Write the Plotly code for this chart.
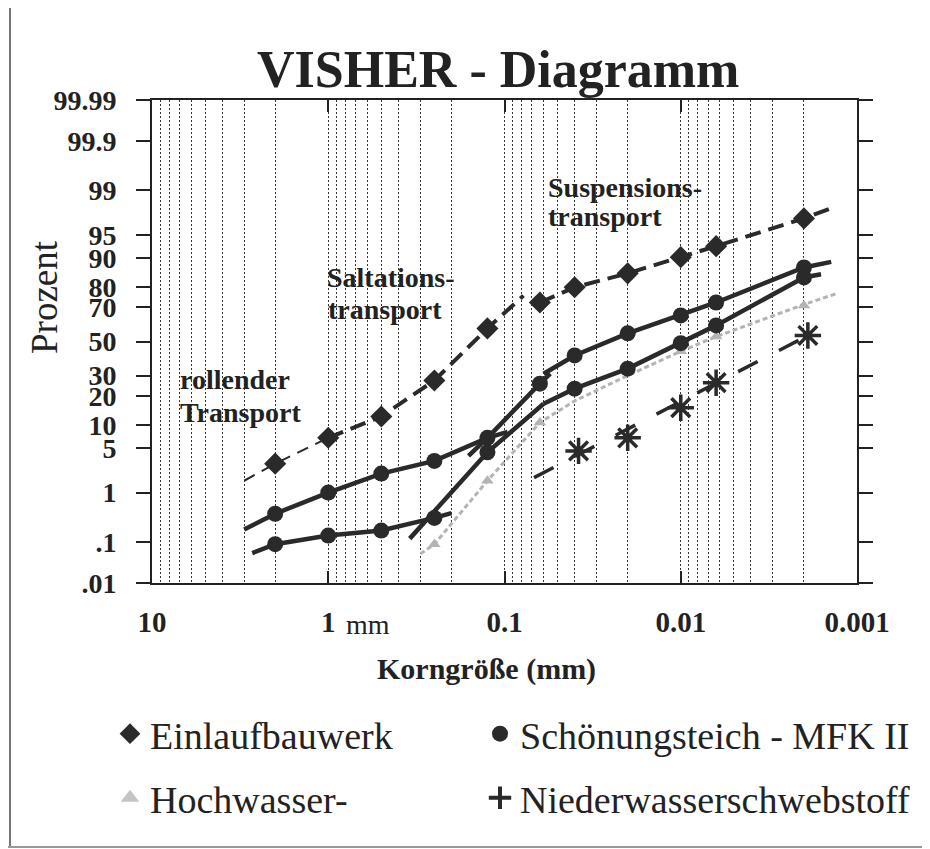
from statistics import NormalDist
import plotly.graph_objects as go

# probability (normal quantile) scale for the y axis
ND = NormalDist()


def z(pct):
    return [ND.inv_cdf(p / 100) for p in pct]


# axis ticks
Y_TICK_PCT = [0.01, 0.1, 1, 5, 10, 20, 30, 50, 70, 80, 90, 95, 99, 99.9, 99.99]
Y_TICK_TEXT = [".01", ".1", "1", "5", "10", "20", "30", "50", "70", "80", "90", "95", "99", "99.9", "99.99"]
X_TICK_MM = [10, 1, 0.1, 0.01, 0.001]
X_TICK_TEXT = ["10", "1", "0.1", "0.01", "0.001"]

# Einlaufbauwerk (diamonds, dashed)
EIN_MM = [2, 1, 0.5, 0.25, 0.125, 0.063, 0.04, 0.02, 0.01, 0.0063, 0.002]
EIN_PCT = [3.0, 6.9, 12.4, 27.4, 58, 72.6, 79.8, 85.3, 90.3, 92.9, 97.1]
EIN_ROLL_MM = [3.0, 2, 1]
EIN_ROLL_PCT = [1.6, 3.0, 6.9]
EIN_SALT_MM = [1, 0.5, 0.25, 0.125, 0.078]
EIN_SALT_PCT = [6.9, 12.4, 27.4, 58, 76]
EIN_SUSP_MM = [0.063, 0.04, 0.02, 0.01, 0.0063, 0.002, 0.0014]
EIN_SUSP_PCT = [72.6, 79.8, 85.3, 90.3, 92.9, 97.1, 98.0]

# Schoenungsteich - MFK II, upper curve (circles, solid)
SA_MM = [2, 1, 0.5, 0.25, 0.125, 0.063, 0.04, 0.02, 0.01, 0.0063, 0.002]
SA_PCT = [0.4, 1.0, 2.1, 3.3, 6.9, 25.8, 41.5, 55, 65.6, 72.6, 87.3]
SA_SEG1_MM = [3.0, 2, 1, 0.5, 0.25, 0.125, 0.096]
SA_SEG1_PCT = [0.19, 0.4, 1.0, 2.1, 3.3, 6.9, 8.2]
SA_SEG2_MM = [0.16, 0.125, 0.063, 0.055]
SA_SEG2_PCT = [3.9, 6.9, 25.8, 31]
SA_SEG3_MM = [0.06, 0.04, 0.02, 0.01, 0.0063, 0.002, 0.0014]
SA_SEG3_PCT = [31, 41.5, 55, 65.6, 72.6, 87.3, 89]

# Schoenungsteich - MFK II, lower curve (circles, solid)
SB_MM = [2, 1, 0.5, 0.25, 0.125, 0.04, 0.02, 0.01, 0.0063, 0.002]
SB_PCT = [0.09, 0.14, 0.18, 0.33, 4.4, 23.4, 33.8, 49, 59.8, 83.8]
SB_SEG1_MM = [2.7, 2, 1, 0.5, 0.25, 0.2]
SB_SEG1_PCT = [0.056, 0.09, 0.14, 0.18, 0.33, 0.41]
SB_SEG2_MM = [0.345, 0.125, 0.06]
SB_SEG2_PCT = [0.12, 4.4, 16.9]
SB_SEG3_MM = [0.06, 0.04, 0.02, 0.01, 0.0063, 0.002, 0.0016]
SB_SEG3_PCT = [16.9, 23.4, 33.8, 49, 59.8, 83.8, 85]

# Hochwasser (grey triangles, dotted grey)
HW_MM = [0.25, 0.125, 0.063, 0.01, 0.0063, 0.002]
HW_PCT = [0.09, 1.6, 10.6, 44, 53, 71]
HW_LINE_MM = [0.3, 0.25, 0.125, 0.063, 0.04, 0.02, 0.01, 0.0063, 0.002, 0.0013]
HW_LINE_PCT = [0.054, 0.09, 1.6, 10.6, 18, 30, 44, 53, 71.6, 77]

# Niederwasserschwebstoff (asterisks, long dashes)
NW_MM = [0.038, 0.02, 0.01, 0.0063, 0.0019]
NW_PCT = [4.6, 6.9, 15.4, 26.3, 53.7]
NW_LINE_MM = [0.068, 0.0019]
NW_LINE_PCT = [1.8, 53.7]

MINOR_MM = [d * 10 ** k for k in (0, -1, -2, -3) for d in range(2, 10)]

DARK = "#2a2a2a"
GREY = "#b4b4b4"
SERIF = "Liberation Serif"

#page pixels of the plot area; the page body adds an 8px margin
OFF = 8
L, R, T, B = 152, 857, 100, 583
W, H = 930 - OFF, 849 - OFF


def px_x(x):
    return (x - L) / (R - L)


def px_y(y):
    return (B - y) / (B - T)


fig = go.Figure()


def add_line(xs, ys, color, width, dash):
    fig.add_trace(go.Scatter(
        x=xs, y=z(ys), mode="lines",
        line=dict(color=color, width=width, dash=dash),
        hoverinfo="skip", showlegend=False,
    ))


def add_marks(xs, ys, name, marker):
    fig.add_trace(go.Scatter(
        x=xs, y=z(ys), mode="markers", name=name,
        marker=marker, showlegend=False,
    ))


#lines, grey first so it sits underneath
add_line(HW_LINE_MM, HW_LINE_PCT, GREY, 3, "5px,3px")
add_line(NW_LINE_MM, NW_LINE_PCT, DARK, 3.5, "22px,24px")
add_line(EIN_ROLL_MM, EIN_ROLL_PCT, DARK, 2, "12px,8px")
add_line(EIN_SALT_MM, EIN_SALT_PCT, DARK, 4, "16px,8px")
add_line(EIN_SUSP_MM, EIN_SUSP_PCT, DARK, 4, "16px,8px")
for xs, ys in [(SA_SEG1_MM, SA_SEG1_PCT), (SA_SEG2_MM, SA_SEG2_PCT), (SA_SEG3_MM, SA_SEG3_PCT),
               (SB_SEG1_MM, SB_SEG1_PCT), (SB_SEG2_MM, SB_SEG2_PCT), (SB_SEG3_MM, SB_SEG3_PCT)]:
    add_line(xs, ys, DARK, 4.5, "solid")

#markers
add_marks(HW_MM, HW_PCT, "Hochwasser-", dict(symbol="triangle-up", size=11, color=GREY))
add_marks(NW_MM, NW_PCT, "Niederwasserschwebstoff",
          dict(symbol="asterisk-open", size=22, color=DARK, line=dict(color=DARK, width=3.5)))
add_marks(EIN_MM, EIN_PCT, "Einlaufbauwerk", dict(symbol="diamond", size=17, color=DARK))
add_marks(SA_MM, SA_PCT, "Schönungsteich - MFK II", dict(symbol="circle", size=16, color=DARK))
add_marks(SB_MM, SB_PCT, "Schönungsteich - MFK II", dict(symbol="circle", size=16, color=DARK))

#legend-only entries, one small legend per entry (2 x 2 grid)
LEGEND_ITEMS = [
    ("Einlaufbauwerk", dict(symbol="diamond", size=16, color=DARK), "legend", 110, 734),
    ("Schönungsteich - MFK II", dict(symbol="circle", size=16, color=DARK), "legend2", 480, 734),
    ("Hochwasser-", dict(symbol="triangle-up", size=16, color="#c4c4c4"), "legend3", 110, 798),
    ("Niederwasserschwebstoff", dict(symbol="cross-thin-open", size=16, color=DARK,
                                     line=dict(color=DARK, width=4)), "legend4", 480, 798),
]
legends = {}
for name, marker, leg, lx, ly in LEGEND_ITEMS:
    fig.add_trace(go.Scatter(x=[None], y=[None], mode="markers", name=name,
                             marker=marker, legend=leg, showlegend=True))
    legends[leg] = dict(
        x=px_x(lx), y=px_y(ly), xanchor="left", yanchor="middle",
        font=dict(family=SERIF, size=38, color="#222"),
        bgcolor="rgba(0,0,0,0)", itemsizing="trace",
    )

fig.update_layout(
    width=W, height=H, autosize=False,
    paper_bgcolor="white", plot_bgcolor="white",
    margin=dict(l=L - OFF, r=930 - R, t=T - OFF, b=849 - B, pad=0),
    xaxis=dict(
        type="log", range=[1, -3], automargin=False,
        tickvals=X_TICK_MM, ticktext=X_TICK_TEXT,
        tickfont=dict(family=SERIF, size=29, color="#222", weight="bold"),
        ticks="inside", ticklen=12, tickwidth=1.5, tickcolor="#222",
        ticklabelstandoff=12,
        showline=True, linecolor="#222", linewidth=2, mirror="ticks",
        showgrid=True, gridcolor="#333", gridwidth=1, griddash="2px,2px",
        minor=dict(tickvals=MINOR_MM, ticks="", showgrid=True,
                   gridcolor="#333", gridwidth=1, griddash="2px,2px"),
        zeroline=False,
    ),
    yaxis=dict(
        range=[z([0.01])[0], z([99.99])[0]], automargin=False,
        tickvals=z(Y_TICK_PCT), ticktext=Y_TICK_TEXT,
        tickfont=dict(family=SERIF, size=28, color="#222", weight="bold"),
        ticks="outside", ticklen=14, tickwidth=1.5, tickcolor="#222",
        ticklabelstandoff=14,
        showline=True, linecolor="#222", linewidth=2, mirror="ticks",
        showgrid=False, zeroline=False,
    ),
    **legends,
)

#texts
def note(text, x, y, size, bold=True, anchor="left", angle=0):
    fig.add_annotation(
        x=px_x(x), y=px_y(y), xref="paper", yref="paper",
        text=text, showarrow=False, xanchor=anchor, yanchor="middle",
        textangle=angle,
        font=dict(family=SERIF, size=size, color="#222",
                  weight="bold" if bold else "normal"),
    )


note("VISHER - Diagramm", 498, 69, 52, anchor="center")
note("Prozent", 44, 297, 37, bold=False, anchor="center", angle=-90)
note("Korngröße (mm)", 486, 669, 30, anchor="center")
note("mm", 344, 624, 28, bold=False)
note("rollender", 178, 379, 28)
note("Transport", 178, 412, 28)
note("Saltations-", 325, 277, 28)
note("transport", 326, 309, 28)
note("Suspensions-", 546, 187, 28)
note("transport", 546, 216, 28)

#frame of the original page
fig.add_shape(type="line", xref="paper", yref="paper",
              x0=px_x(10), x1=px_x(10), y0=px_y(8), y1=px_y(847),
              line=dict(color="#777", width=2))
fig.add_shape(type="line", xref="paper", yref="paper",
              x0=px_x(8), x1=px_x(930), y0=px_y(847), y1=px_y(847),
              line=dict(color="#999", width=2))

fig.write_html("out.html")
